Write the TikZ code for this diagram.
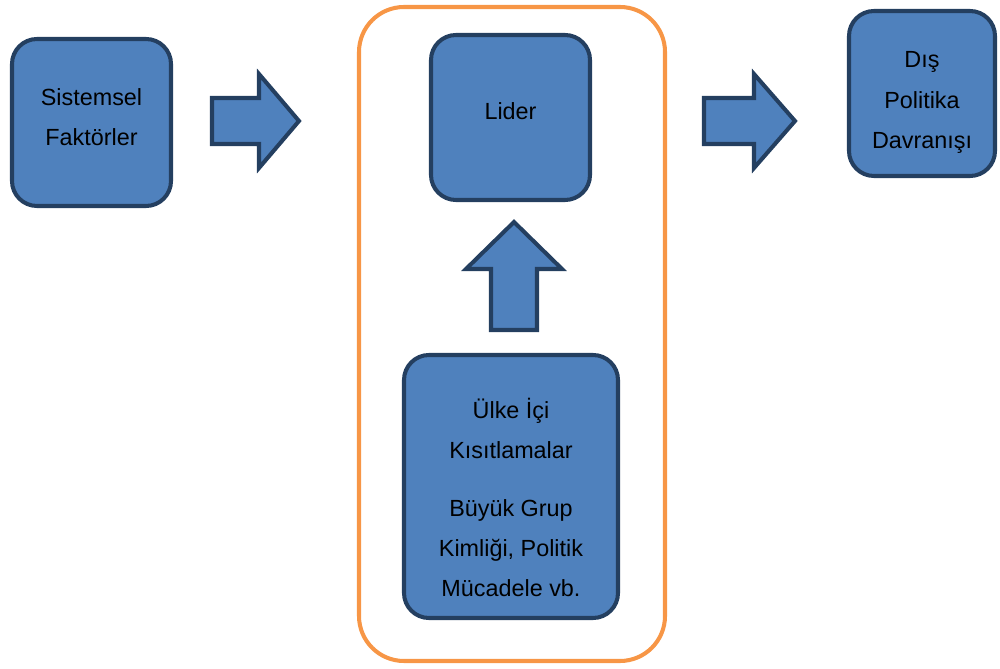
\documentclass[tikz,border=0pt]{standalone}
\usepackage{fontspec}
\setmainfont{Liberation Sans}
\usetikzlibrary{positioning}
\definecolor{kutumavi}{HTML}{4F81BD}
\definecolor{kenarmavi}{HTML}{243F60}
\definecolor{turuncu}{HTML}{F79646}
\tikzset{
	kutu/.style={draw=kenarmavi,fill=kutumavi,line width=2.3pt,rounded corners=0.5cm,inner sep=0pt},
	yazi/.style={align=center,font=\fontsize{13.3}{22.8}\selectfont,inner sep=0pt},
	okblok/.style={draw=kenarmavi,fill=kutumavi,line width=2.3pt,line join=miter}
}
\begin{document}
\begin{tikzpicture}
	\useasboundingbox (0,0) rectangle (20,13.36);

	% cerceve
	\node[draw=turuncu,line width=2.3pt,rounded corners=0.9cm,minimum width=6.12cm,minimum height=13.08cm] (cerceve) at (10.24,6.68) {};

	% kutular
	\node[kutu,minimum width=3.18cm,minimum height=3.34cm] (sistemsel) at (1.83,10.91) {};
	\node[kutu,minimum width=3.18cm,minimum height=3.30cm] (lider) at (10.21,11.01) {};
	\node[kutu,minimum width=4.28cm,minimum height=5.26cm] (kisit) at (10.22,3.63) {};
	\node[kutu,minimum width=2.92cm,minimum height=3.30cm] (dis) at (18.44,11.49) {};

	% yazilar
	\node[yazi] (sistemselyazi) at ([yshift=0.1cm]sistemsel.center) {Sistemsel\\Faktörler};
	\node[yazi] (lideryazi) at ([yshift=0.12cm]lider.center) {Lider};
	\node[yazi] (kisityazi) at ([yshift=-0.22cm]kisit.center) {Ülke İçi\\Kısıtlamalar\\[9.7pt]Büyük Grup\\Kimliği, Politik\\Mücadele vb.};
	\node[yazi] (disyazi) at ([yshift=-0.18cm]dis.center) {Dış\\Politika\\Davranışı};

	% oklar
	\draw[okblok](4.24,11.40)--(5.18,11.40)--(5.18,11.88)--(5.98,10.94)--(5.18,10.00)--(5.18,10.48)--(4.24,10.48)--cycle;
	\draw[okblok](14.08,11.40)--(15.08,11.40)--(15.08,11.88)--(15.90,10.94)--(15.08,10.00)--(15.08,10.48)--(14.08,10.48)--cycle;
	\draw[okblok](9.82,6.76)--(9.82,7.98)--(9.32,7.98)--(10.28,8.92)--(11.24,7.98)--(10.74,7.98)--(10.74,6.76)--cycle;
\end{tikzpicture}
\end{document}
